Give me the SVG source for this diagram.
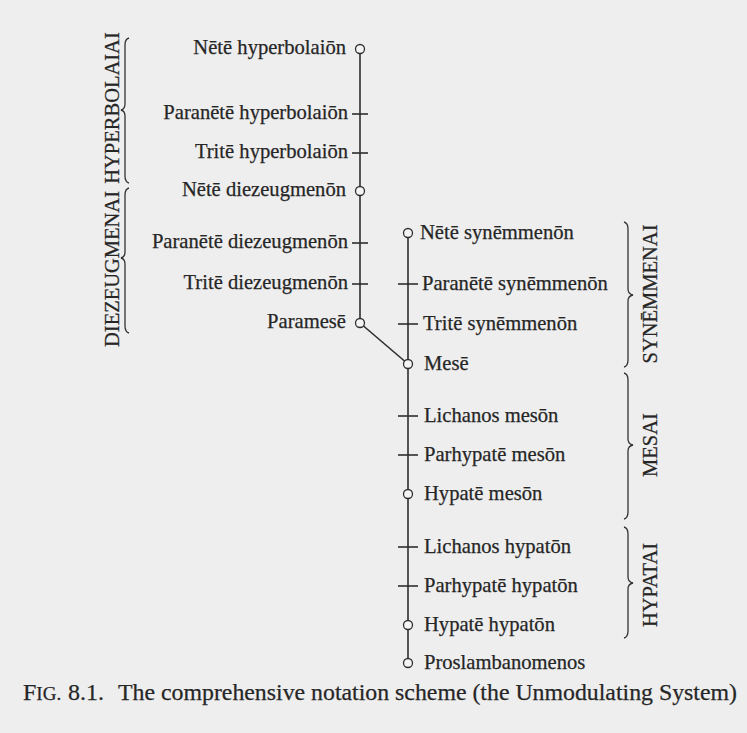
<svg xmlns="http://www.w3.org/2000/svg" width="747" height="733" viewBox="0 0 747 733">
<style>
.bg{fill:#eeeeee}
.ln{stroke:#2e2e2e;stroke-width:1.6;fill:none}
.tk{stroke:#2e2e2e;stroke-width:1.6}
.ci{fill:#f4f4f4;stroke:#2e2e2e;stroke-width:1.3}
.br{stroke:#333;stroke-width:1.3;fill:none}
.lb,.vl,.cap{font-family:"Liberation Serif","Times New Roman",serif;fill:#262626;stroke:#262626;stroke-width:0.25}
.lb{font-size:20.6px}
.l{text-anchor:end}
.vl{font-size:20.5px;text-anchor:middle}
.cap{font-size:24px}
</style>
<rect class="bg" x="0" y="0" width="747" height="733"/>
<g id="connectors">
<line class="ln" x1="360" y1="49" x2="360" y2="323"/>
<line class="ln" x1="360" y1="323" x2="408" y2="364"/>
<line class="ln" x1="408" y1="233" x2="408" y2="663"/>
</g>
<g id="nete-hyperbolaion"><circle class="ci" cx="360" cy="49" r="4.5"/><text class="lb l" x="346" y="54">Nētē hyperbolaiōn</text></g>
<g id="paranete-hyperbolaion"><line class="tk" x1="352" y1="114" x2="368" y2="114"/><text class="lb l" x="348" y="119">Paranētē hyperbolaiōn</text></g>
<g id="trite-hyperbolaion"><line class="tk" x1="352" y1="153" x2="368" y2="153"/><text class="lb l" x="348" y="158">Tritē hyperbolaiōn</text></g>
<g id="nete-diezeugmenon"><circle class="ci" cx="360" cy="191" r="4.5"/><text class="lb l" x="346" y="196">Nētē diezeugmenōn</text></g>
<g id="paranete-diezeugmenon"><line class="tk" x1="352" y1="243" x2="368" y2="243"/><text class="lb l" x="348" y="248">Paranētē diezeugmenōn</text></g>
<g id="trite-diezeugmenon"><line class="tk" x1="352" y1="284" x2="368" y2="284"/><text class="lb l" x="348" y="289">Tritē diezeugmenōn</text></g>
<g id="paramese"><circle class="ci" cx="360" cy="323" r="4.5"/><text class="lb l" x="346" y="328">Paramesē</text></g>

<g id="nete-synemmenon"><circle class="ci" cx="408" cy="233" r="4.5"/><text class="lb" x="420" y="239">Nētē synēmmenōn</text></g>
<g id="paranete-synemmenon"><line class="tk" x1="398" y1="284" x2="418" y2="284"/><text class="lb" x="422" y="290">Paranētē synēmmenōn</text></g>
<g id="trite-synemmenon"><line class="tk" x1="398" y1="324" x2="418" y2="324"/><text class="lb" x="423" y="330">Tritē synēmmenōn</text></g>
<g id="mese"><circle class="ci" cx="408" cy="364" r="4.5"/><text class="lb" x="424" y="370">Mesē</text></g>
<g id="lichanos-meson"><line class="tk" x1="398" y1="416" x2="418" y2="416"/><text class="lb" x="424" y="422">Lichanos mesōn</text></g>
<g id="parhypate-meson"><line class="tk" x1="398" y1="455" x2="418" y2="455"/><text class="lb" x="424" y="461">Parhypatē mesōn</text></g>
<g id="hypate-meson"><circle class="ci" cx="408" cy="494" r="4.5"/><text class="lb" x="424" y="500">Hypatē mesōn</text></g>
<g id="lichanos-hypaton"><line class="tk" x1="398" y1="547" x2="418" y2="547"/><text class="lb" x="424" y="553">Lichanos hypatōn</text></g>
<g id="parhypate-hypaton"><line class="tk" x1="398" y1="586" x2="418" y2="586"/><text class="lb" x="424" y="592">Parhypatē hypatōn</text></g>
<g id="hypate-hypaton"><circle class="ci" cx="408" cy="625" r="4.5"/><text class="lb" x="424" y="631">Hypatē hypatōn</text></g>
<g id="proslambanomenos"><circle class="ci" cx="408" cy="663" r="4.5"/><text class="lb" x="424" y="669">Proslambanomenos</text></g>

<g id="group-hyperbolaiai">
<path class="br" d="M129,38 Q125,39 125,45 L125,104 Q125,109 121,110 Q125,111 125,116 L125,176 Q125,182 129,183"/>
<text class="vl" transform="translate(119,108) rotate(-90)">HYPERBOLAIAI</text>
</g>
<g id="group-diezeugmenai">
<path class="br" d="M129,188 Q125,189 125,195 L125,252 Q125,257 121,258 Q125,259 125,264 L125,326 Q125,332 129,333"/>
<text class="vl" transform="translate(119,269) rotate(-90)">DIEZEUGMENAI</text>
</g>
<g id="group-synemmenai">
<path class="br" d="M624,222 Q628,223 628,229 L628,289 Q628,294 633,295 Q628,296 628,301 L628,360 Q628,366 624,367"/>
<text class="vl" transform="translate(657,294) rotate(-90)">SYNĒMMENAI</text>
</g>
<g id="group-mesai">
<path class="br" d="M624,373 Q628,374 628,380 L628,439 Q628,444 633,445 Q628,446 628,451 L628,512 Q628,518 624,519"/>
<text class="vl" transform="translate(657,445) rotate(-90)">MESAI</text>
</g>
<g id="group-hypatai">
<path class="br" d="M624,527 Q628,528 628,534 L628,577 Q628,582 633,583 Q628,584 628,589 L628,631 Q628,637 624,638"/>
<text class="vl" transform="translate(657,585) rotate(-90)">HYPATAI</text>
</g>

<g id="caption">
<text class="cap" x="23" y="700">F<tspan font-size="19">IG.</tspan></text>
<text class="cap" x="68" y="700">8.1.</text>
<text class="cap" x="118" y="700" textLength="619" lengthAdjust="spacingAndGlyphs">The comprehensive notation scheme (the Unmodulating System)</text>
</g>
</svg>
